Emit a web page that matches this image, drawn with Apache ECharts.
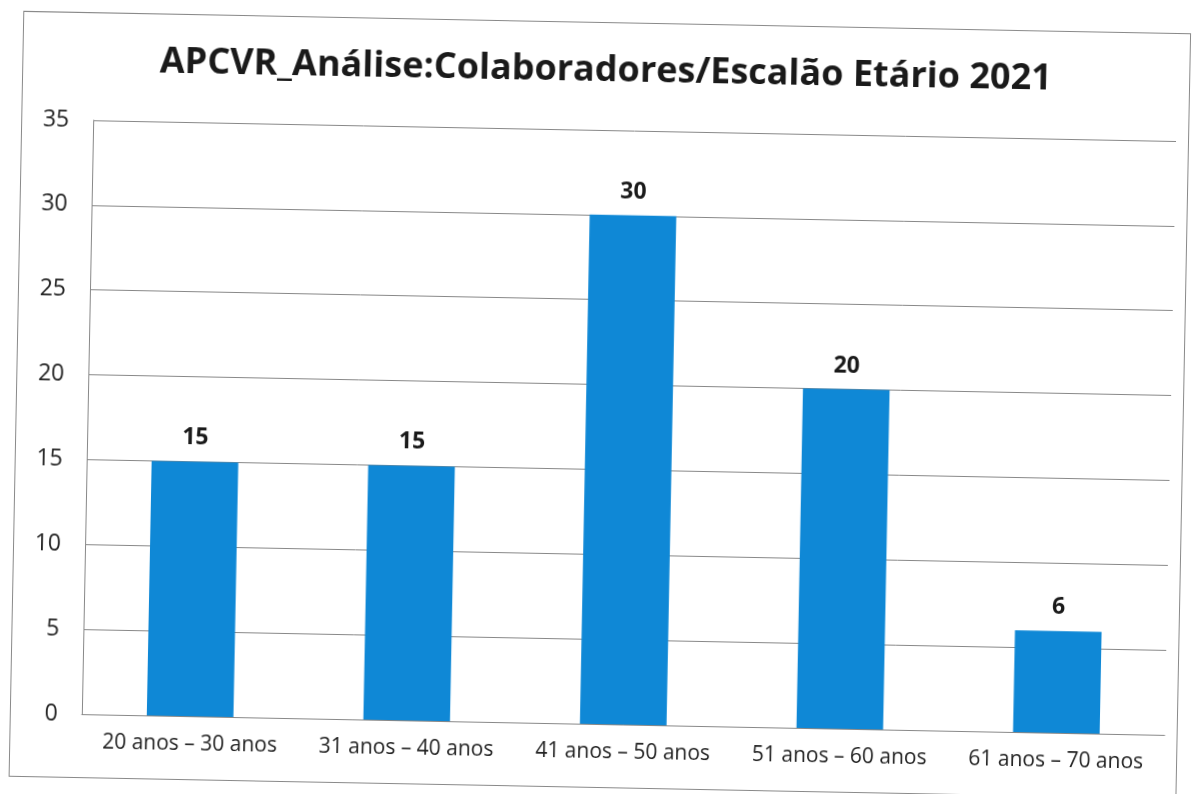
<!DOCTYPE html>
<html>
<head>
<meta charset="utf-8">
<script src="https://cdn.jsdelivr.net/npm/echarts@6/dist/echarts.min.js"></script>
<style>
  html, body { margin: 0; padding: 0; background: #fff; }
  #wrap { width: 1199px; height: 794px; position: relative; overflow: hidden; }
  .rot {
    position: absolute; left: 0; top: 0; width: 1199px; height: 794px;
    transform: rotate(1.1deg); transform-origin: 600px 397px;
  }
  #frame {
    position: absolute; left: 16px; top: 22px; width: 1168px; height: 766px;
    border: 1px solid #8a8a8a; box-sizing: border-box;
  }
</style>
</head>
<body>
<div id="wrap">
  <div class="rot"><div id="frame"></div></div>
  <div id="chart" class="rot"></div>
</div>
<script>
const title = "APCVR_Análise:Colaboradores/Escalão Etário 2021";
const categories = [
  "20 anos – 30 anos",
  "31 anos – 40 anos",
  "41 anos – 50 anos",
  "51 anos – 60 anos",
  "61 anos – 70 anos",
];
const counts = [15, 15, 30, 20, 6];

const chart = echarts.init(document.getElementById("chart"), null, { renderer: "canvas" });
chart.setOption({
  animation: false,
  textStyle: { fontFamily: "Open Sans" },
  title: {
    text: title,
    left: "center",
    top: 48,
    textStyle: { fontSize: 36, fontWeight: "bold", color: "#1a1a1a", fontFamily: "Open Sans" },
  },
  grid: { left: 88, right: 28, top: 130, bottom: 70 },
  xAxis: {
    type: "category",
    data: categories,
    axisLine: { lineStyle: { color: "#888", width: 1 } },
    axisTick: { show: false },
    axisLabel: { color: "#222", fontSize: 21, margin: 18, interval: 0 },
  },
  yAxis: {
    type: "value",
    min: 0,
    max: 35,
    interval: 5,
    axisLine: { show: true, lineStyle: { color: "#888", width: 1 } },
    axisTick: { show: false },
    axisLabel: { color: "#222", fontSize: 23, margin: 24 },
    splitLine: { lineStyle: { color: "#888", width: 1 } },
  },
  series: [
    {
      type: "bar",
      data: counts,
      barWidth: "40%",
      itemStyle: { color: "#0f88d6" },
      label: {
        show: true,
        position: "top",
        distance: 12,
        fontSize: 23,
        fontWeight: "bold",
        color: "#1a1a1a",
      },
    },
  ],
});
</script>
</body>
</html>
